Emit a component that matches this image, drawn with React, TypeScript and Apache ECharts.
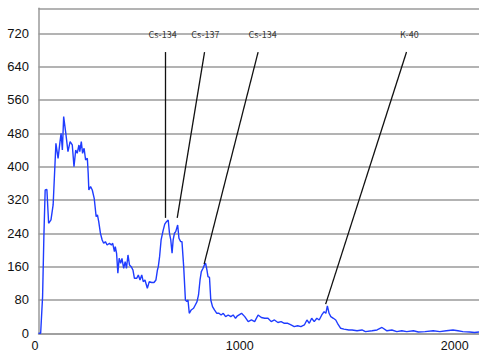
import React, { useEffect, useRef } from "react";
import * as echarts from "echarts";

const channels = [
  0, 10, 19, 25, 31, 39, 47, 58, 68, 81, 91, 100, 105, 111, 117, 127, 137, 147, 157, 165,
  173, 180, 188, 192, 199, 205, 212, 219, 227, 231, 234, 242, 250, 259, 268, 274, 280, 288,
  296, 303, 311, 319, 330, 339, 345, 353, 357, 363, 369, 375, 382, 388, 396, 403, 409, 416,
  423, 431, 439, 446, 457, 464, 472, 480, 487, 495, 506, 515, 526, 537, 546, 553, 557, 563,
  570, 579, 587, 595, 603, 609, 615, 621, 626, 632, 638, 647, 653, 661, 667, 675, 683, 690,
  695, 701, 710, 721, 729, 737, 744, 751, 757, 765, 771, 777, 783, 788, 795, 801, 809, 818,
  829, 839, 849, 859, 870, 882, 894, 905, 916, 925, 944, 959, 975, 990, 1005, 1021, 1036,
  1052, 1067, 1082, 1097, 1113, 1128, 1143, 1159, 1174, 1189, 1205, 1220, 1236, 1248, 1259,
  1270, 1282, 1294, 1305, 1317, 1328, 1336, 1343, 1351, 1359, 1371, 1382, 1390, 1405, 1420,
  1443, 1458, 1481, 1504, 1520, 1551, 1574, 1597, 1620, 1643, 1666, 1689, 1712, 1743, 1766,
  1797, 1835, 1866, 1896, 1927, 1950, 1973, 2004, 2027, 2048,
];

const counts = [
  0, 0, 88, 232, 344, 345, 264, 272, 308, 456, 420, 460, 480, 440, 520, 480, 436, 460, 452, 400,
  440, 432, 452, 436, 460, 432, 444, 416, 420, 384, 344, 352, 344, 324, 280, 284, 268, 240,
  224, 216, 220, 212, 216, 212, 216, 196, 208, 192, 144, 180, 168, 180, 156, 172, 156, 188,
  164, 160, 152, 132, 132, 140, 128, 140, 124, 128, 108, 124, 122, 122, 128, 152, 160, 184,
  224, 246, 262, 268, 272, 240, 224, 192, 224, 240, 244, 260, 228, 220, 220, 160, 80, 76,
  80, 48, 56, 60, 68, 76, 92, 128, 148, 156, 164, 168, 152, 136, 134, 80, 64, 56,
  48, 48, 44, 48, 40, 44, 40, 44, 36, 42, 48, 40, 28, 32, 28, 44, 38,
  36, 36, 28, 32, 26, 28, 24, 24, 20, 16, 18, 16, 20, 32, 24,
  36, 28, 36, 32, 44, 52, 48, 66, 48, 40, 36, 32, 24, 12, 10,
  8, 8, 6, 8, 4, 6, 8, 14, 6, 8, 4, 6, 4, 6, 3,
  4, 6, 4, 6, 8, 6, 4, 3, 2, 3,
];

const peakNames = ["Cs-134", "Cs-137", "Cs-134", "K-40"];
const labelChannels = [577, 776, 1042, 1724];
const labelCounts = [718, 718, 718, 718];
const pointerStartChannels = [587, 772, 1021, 1711];
const pointerStartCounts = [675, 675, 675, 675];
const pointerEndChannels = [587, 645, 770, 1335];
const pointerEndCounts = [277, 277, 166, 70];

const yTicks = { min: 0, max: 780, interval: 80 };
const xTicks = { min: 0, max: 2048, interval: 1000 };

export default function App() {
  const ref = useRef<HTMLDivElement>(null);
  useEffect(() => {
    document.body.style.margin = "0";
    const chart = echarts.init(ref.current!, null, { renderer: "svg" });
    const lineData = channels.map((c, i) => [c, counts[i]]);
    const labelData = peakNames.map((n, i) => ({ name: n, value: [labelChannels[i], labelCounts[i]] }));
    const pointers = peakNames.map((_, i) => [
      { coord: [pointerStartChannels[i], pointerStartCounts[i]] },
      { coord: [pointerEndChannels[i], pointerEndCounts[i]] },
    ]);
    chart.setOption({
      animation: false,
      backgroundColor: "#ffffff",
      grid: { left: 38.5, top: 8.3, width: 444.4, height: 325, containLabel: false },
      xAxis: {
        type: "value",
        min: xTicks.min,
        max: xTicks.max,
        interval: xTicks.interval,
        axisLine: { show: true, lineStyle: { color: "#9a9a9a", width: 1.5 } },
        axisTick: { show: false },
        splitLine: { show: false },
        axisLabel: {
          showMaxLabel: false,
          align: "right",
          margin: 6,
          color: "#111",
          fontSize: 12.5,
          fontFamily: "Liberation Sans, Arial, sans-serif",
          formatter: (v: number) => String(v),
        },
      },
      yAxis: {
        type: "value",
        min: yTicks.min,
        max: yTicks.max,
        interval: yTicks.interval,
        axisLine: { show: true, lineStyle: { color: "#9a9a9a", width: 1.5 } },
        axisTick: { show: false },
        splitLine: { show: true, lineStyle: { color: "#9a9a9a", width: 1.5 } },
        axisLabel: {
          showMaxLabel: false,
          margin: 9.5,
          color: "#111",
          fontSize: 13,
          fontFamily: "Liberation Sans, Arial, sans-serif",
          formatter: (v: number) => String(v),
        },
      },
      series: [
        {
          type: "line",
          data: lineData,
          showSymbol: false,
          lineStyle: { color: "#1f3cff", width: 1.4 },
          itemStyle: { color: "#1f3cff" },
          silent: true,
          markLine: {
            silent: true,
            symbol: ["none", "none"],
            label: { show: false },
            lineStyle: { color: "#111", width: 1.3, type: "solid" },
            data: pointers,
          },
        },
        {
          type: "scatter",
          data: labelData,
          symbolSize: 0,
          silent: true,
          label: {
            show: true,
            position: "inside",
            formatter: "{b}",
            color: "#000",
            fontSize: 9,
            fontFamily: "Noto Sans CJK JP, sans-serif",
          },
        },
      ],
    });
    return () => chart.dispose();
  }, []);
  return <div ref={ref} style={{ width: 479, height: 353 }} />;
}
